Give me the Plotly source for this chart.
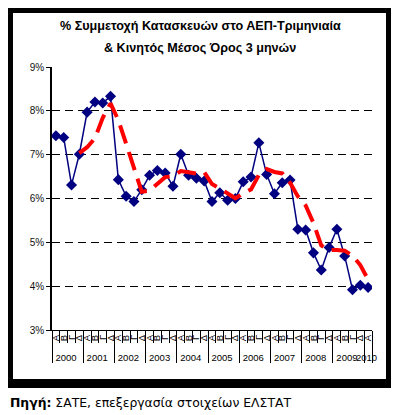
import plotly.graph_objects as go
import pandas as pd

# ---- data ----
year_labels = ["2000", "2001", "2002", "2003", "2004", "2005",
               "2006", "2007", "2008", "2009", "2010"]
quarter_labels = ["Α", "Β", "Γ", "Δ"]
share_pct = [7.43, 7.39, 6.31, 7.01,
             7.97, 8.20, 8.18, 8.33,
             6.43, 6.05, 5.93, 6.20,
             6.53, 6.64, 6.58, 6.28,
             7.01, 6.53, 6.46, 6.40,
             5.93, 6.13, 5.96, 6.00,
             6.38, 6.49, 7.27, 6.55,
             6.11, 6.36, 6.42, 5.30,
             5.28, 4.76, 4.37, 4.88,
             5.30, 4.69, 3.92, 4.02,
             3.97]
y_ticks = [3, 4, 5, 6, 7, 8, 9]
y_tick_text = ["3%", "4%", "5%", "6%", "7%", "8%", "9%"]
ma_period = 4

# build multicategory x
x_year, x_q = [], []
for y in year_labels:
    for q in quarter_labels:
        if len(x_year) < len(share_pct):
            x_year.append(y)
            x_q.append(q)

ma = pd.Series(share_pct).rolling(ma_period).mean().tolist()

OFF = 8  # page body margin
W, H = 399 - OFF, 415 - OFF
L, R, T, B = 52 - OFF, 372 - OFF, 67 - OFF, 330 - OFF

fig = go.Figure()
fig.add_trace(go.Scatter(
    x=[x_year, x_q], y=share_pct, mode="lines+markers",
    line=dict(color="#000080", width=1.5),
    marker=dict(symbol="diamond", size=8.5, color="#000080"),
    showlegend=False, hoverinfo="skip"))
fig.add_trace(go.Scatter(
    x=[x_year, x_q], y=ma, mode="lines",
    line=dict(color="#FF0000", width=4, dash="19px,9px"),
    showlegend=False, hoverinfo="skip", connectgaps=False))

def px2paper_x(px):
    px = px - OFF
    return (px - L) / (R - L)

def px2paper_y(py):
    py = py - OFF
    return (B - py) / (B - T)

# outer thick frame (reference pixel coords)
frame = [(8, 8, 13, 388), (8, 8, 395, 13), (386, 8, 395, 388), (8, 379, 395, 388)]
shapes = []
for x0, y0, x1, y1 in frame:
    shapes.append(dict(type="rect", xref="paper", yref="paper",
                       x0=px2paper_x(x0), x1=px2paper_x(x1),
                       y0=px2paper_y(y1), y1=px2paper_y(y0),
                       fillcolor="black", line=dict(width=0), layer="above"))

font_main = "Liberation Sans, Arial, sans-serif"
annotations = [
    dict(text="<b>% Συμμετοχή Κατασκευών στο ΑΕΠ-Τριμηνιαία</b>",
         xref="paper", yref="paper", x=px2paper_x(200), y=px2paper_y(26),
         xanchor="center", yanchor="middle", showarrow=False,
         font=dict(family=font_main, size=12.6, color="#000")),
    dict(text="<b>& Κινητός Μέσος Όρος 3 μηνών</b>",
         xref="paper", yref="paper", x=px2paper_x(200), y=px2paper_y(48),
         xanchor="center", yanchor="middle", showarrow=False,
         font=dict(family=font_main, size=12.6, color="#000")),
    dict(text="<b>Πηγή:</b> ΣΑΤΕ, επεξεργασία στοιχείων ΕΛΣΤΑΤ",
         xref="paper", yref="paper", x=px2paper_x(8), y=px2paper_y(402),
         xanchor="left", yanchor="middle", showarrow=False,
         font=dict(family="DejaVu Sans, sans-serif", size=12.4, color="#000")),
]

fig.update_layout(
    width=W, height=H,
    margin=dict(l=L, r=W - R, t=T, b=H - B, autoexpand=False),
    paper_bgcolor="white", plot_bgcolor="white",
    shapes=shapes, annotations=annotations,
    xaxis=dict(type="multicategory", showline=True, linecolor="black", linewidth=1,
               tickmode="linear", tick0=0, dtick=1,
               ticks="outside", tickson="boundaries", ticklen=12, tickcolor="black",
               tickangle=-90, showdividers=True, dividercolor="black", dividerwidth=1,
               tickfont=dict(family=font_main, size=9.5, color="#000"),
               showgrid=False, range=[-0.5, len(share_pct) - 0.5], automargin=False),
    yaxis=dict(range=[3, 9], tickmode="array", tickvals=y_ticks, ticktext=y_tick_text,
               showline=True, linecolor="black", linewidth=1.5,
               ticks="outside", ticklen=4, tickcolor="black",
               showgrid=True, gridcolor="black", gridwidth=1.2, griddash="8px,5px",
               zeroline=False, automargin=False,
               tickfont=dict(family=font_main, size=10, color="#111")),
)

fig.write_html("out.html")
